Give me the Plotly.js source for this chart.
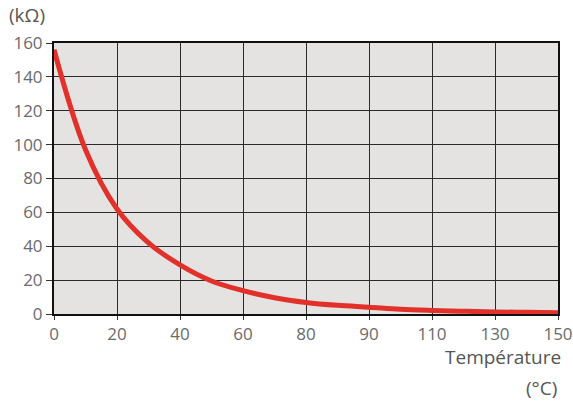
<!DOCTYPE html>
<html>
<head>
<meta charset="utf-8">
<script src="https://cdn.plot.ly/plotly-3.0.1.min.js"></script>
<style>html,body{margin:0;padding:0;background:#fff;}#chart{width:573px;height:401px;}</style>
</head>
<body>
<div id="chart"></div>
<script>
// Tick labels on the (evenly spaced) temperature axis
var tempLabels = ["0", "20", "40", "60", "80", "90", "110", "130", "150"];
// Curve sampled at gridline positions and halfway between them (axis position index)
var curvePos = [0, 0.5, 1, 1.5, 2, 2.5, 3, 3.5, 4, 4.5, 5, 5.5, 6, 6.5, 7, 7.5, 8];
var resistance = [156, 97, 62, 42, 29, 19.5, 13.8, 9.6, 6.8, 5.1, 4.0, 2.8, 2.1, 1.6, 1.2, 1.0, 0.8];
var yTicks = [0, 20, 40, 60, 80, 100, 120, 140, 160];

var tickPos = tempLabels.map(function(_, i){ return i; });

var trace = {
  x: curvePos,
  y: resistance,
  mode: 'lines',
  line: {color: '#e2302a', width: 5, shape: 'spline', smoothing: 1},
  hoverinfo: 'skip'
};

var layout = {
  width: 573, height: 401,
  margin: {l: 54, r: 15, t: 43, b: 87},
  paper_bgcolor: '#ffffff',
  plot_bgcolor: '#e5e3e1',
  showlegend: false,
  font: {family: '"Open Sans", sans-serif', color: '#666666', size: 17},
  xaxis: {
    range: [0, 8],
    tickmode: 'array', tickvals: tickPos, ticktext: tempLabels,
    showgrid: true, gridcolor: '#2a2a2a', gridwidth: 1,
    zeroline: false,
    showline: true, linecolor: '#111111', linewidth: 2, mirror: true,
    ticks: 'outside', ticklen: 4, tickcolor: '#333333', tickwidth: 1,
    ticklabeloverflow: 'allow',
    tickfont: {size: 17, color: '#6a6a6a'}
  },
  yaxis: {
    range: [0, 160],
    tickmode: 'array', tickvals: yTicks,
    showgrid: true, gridcolor: '#2a2a2a', gridwidth: 1,
    zeroline: false,
    showline: true, linecolor: '#111111', linewidth: 2, mirror: true,
    ticks: 'outside', ticklen: 6, tickcolor: '#333333', tickwidth: 1,
    tickfont: {size: 17, color: '#6a6a6a'}
  },
  annotations: [
    {text: '(kΩ)', xref: 'paper', yref: 'paper', x: -0.1, xshift: 3, y: 1.0, yshift: 28,
     xanchor: 'left', yanchor: 'middle', showarrow: false,
     font: {size: 19, color: '#555555'}},
    {text: 'Température', xref: 'paper', yref: 'paper', x: 1.0, xshift: 5, y: 0, yshift: -43,
     xanchor: 'right', yanchor: 'middle', showarrow: false,
     font: {size: 19, color: '#555555'}},
    {text: '(°C)', xref: 'paper', yref: 'paper', x: 1.0, xshift: 1, y: 0, yshift: -74,
     xanchor: 'right', yanchor: 'middle', showarrow: false,
     font: {size: 19, color: '#555555'}}
  ]
};

Plotly.newPlot('chart', [trace], layout, {displayModeBar: false, staticPlot: true});
</script>
</body>
</html>
